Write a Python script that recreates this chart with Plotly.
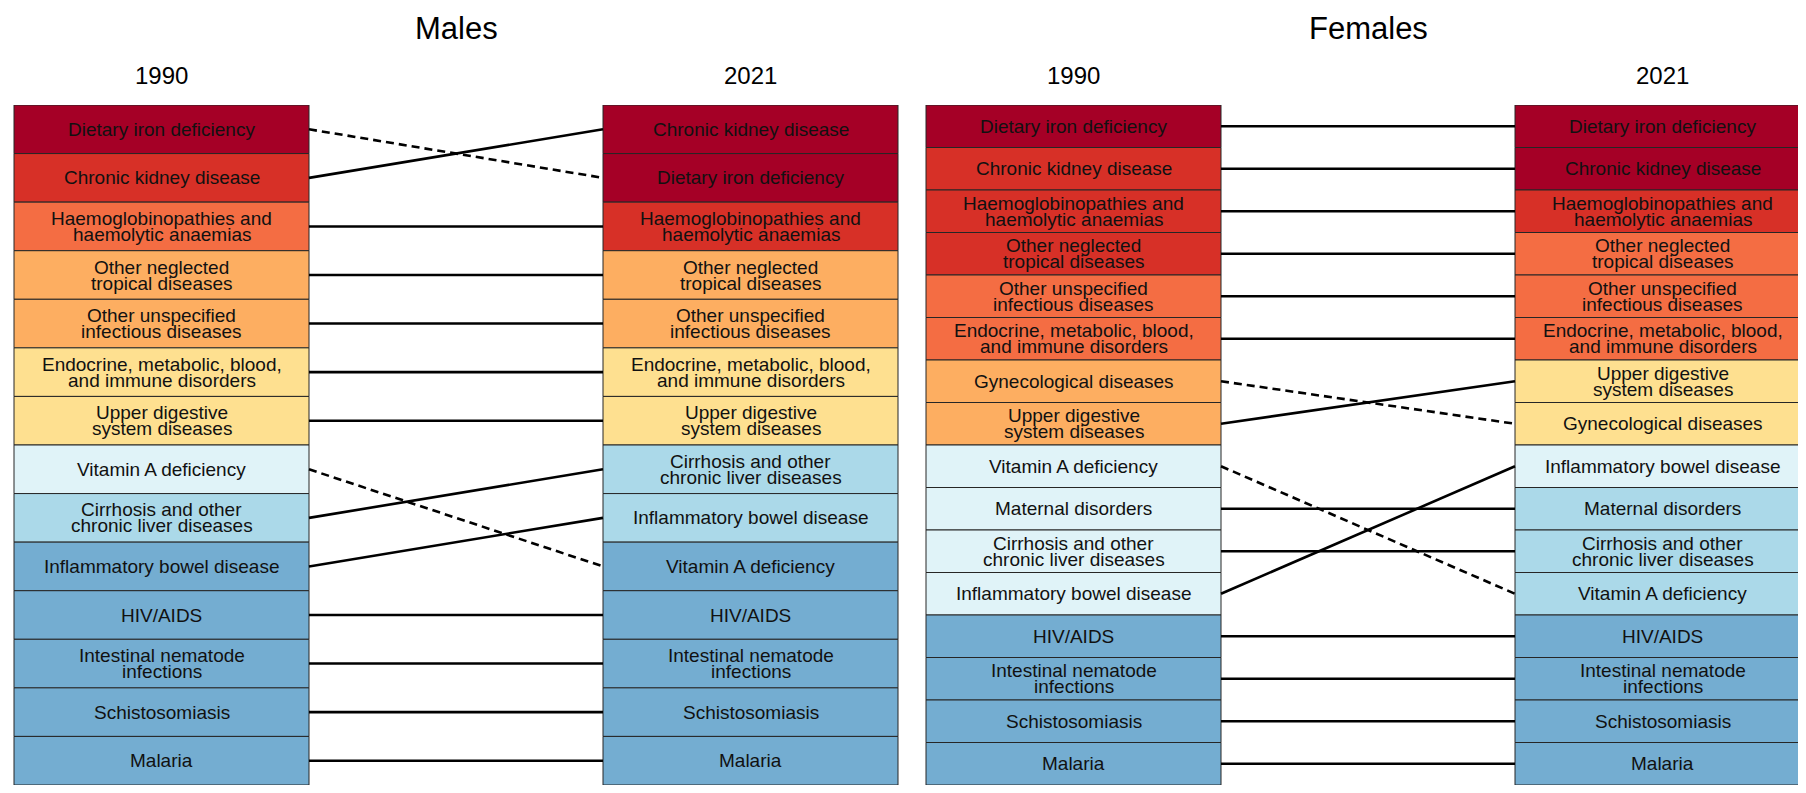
import plotly.graph_objects as go

# rank order (top = highest) and colour bin of each cause, 1990 vs 2021
males_1990 = ["Dietary iron deficiency", "Chronic kidney disease",
              "Haemoglobinopathies and\nhaemolytic anaemias", "Other neglected\ntropical diseases",
              "Other unspecified\ninfectious diseases", "Endocrine, metabolic, blood,\nand immune disorders",
              "Upper digestive\nsystem diseases", "Vitamin A deficiency",
              "Cirrhosis and other\nchronic liver diseases", "Inflammatory bowel disease",
              "HIV/AIDS", "Intestinal nematode\ninfections", "Schistosomiasis", "Malaria"]
males_1990_bin = [7, 6, 5, 4, 4, 3, 3, 2, 1, 0, 0, 0, 0, 0]

males_2021 = ["Chronic kidney disease", "Dietary iron deficiency",
              "Haemoglobinopathies and\nhaemolytic anaemias", "Other neglected\ntropical diseases",
              "Other unspecified\ninfectious diseases", "Endocrine, metabolic, blood,\nand immune disorders",
              "Upper digestive\nsystem diseases", "Cirrhosis and other\nchronic liver diseases",
              "Inflammatory bowel disease", "Vitamin A deficiency",
              "HIV/AIDS", "Intestinal nematode\ninfections", "Schistosomiasis", "Malaria"]
males_2021_bin = [7, 7, 6, 4, 4, 3, 3, 1, 1, 0, 0, 0, 0, 0]

females_1990 = ["Dietary iron deficiency", "Chronic kidney disease",
                "Haemoglobinopathies and\nhaemolytic anaemias", "Other neglected\ntropical diseases",
                "Other unspecified\ninfectious diseases", "Endocrine, metabolic, blood,\nand immune disorders",
                "Gynecological diseases", "Upper digestive\nsystem diseases", "Vitamin A deficiency",
                "Maternal disorders", "Cirrhosis and other\nchronic liver diseases",
                "Inflammatory bowel disease", "HIV/AIDS", "Intestinal nematode\ninfections",
                "Schistosomiasis", "Malaria"]
females_1990_bin = [7, 6, 6, 6, 5, 5, 4, 4, 2, 2, 2, 2, 0, 0, 0, 0]

females_2021 = ["Dietary iron deficiency", "Chronic kidney disease",
                "Haemoglobinopathies and\nhaemolytic anaemias", "Other neglected\ntropical diseases",
                "Other unspecified\ninfectious diseases", "Endocrine, metabolic, blood,\nand immune disorders",
                "Upper digestive\nsystem diseases", "Gynecological diseases",
                "Inflammatory bowel disease", "Maternal disorders",
                "Cirrhosis and other\nchronic liver diseases", "Vitamin A deficiency",
                "HIV/AIDS", "Intestinal nematode\ninfections", "Schistosomiasis", "Malaria"]
females_2021_bin = [7, 7, 6, 5, 5, 5, 3, 3, 2, 1, 1, 1, 0, 0, 0, 0]

years = ["1990", "2021"]
panels = ["Males", "Females"]

# RdYlBu, low -> high
palette = ["#74ADD1", "#ABD9E9", "#E0F3F8", "#FEE090", "#FDAE61", "#F46D43", "#D73027", "#A50026"]

# page body has an 8px margin, so the figure is drawn 8px smaller and shifted
PAD = 8
W, H = 1806 - PAD, 793 - PAD
COL_W = 295
col_left = {("Males", "1990"): 14 - PAD, ("Males", "2021"): 603 - PAD,
            ("Females", "1990"): 926 - PAD, ("Females", "2021"): 1515 - PAD}
FONT = "Liberation Sans, Arial, Helvetica, sans-serif"

data = {("Males", "1990"): (males_1990, males_1990_bin),
        ("Males", "2021"): (males_2021, males_2021_bin),
        ("Females", "1990"): (females_1990, females_1990_bin),
        ("Females", "2021"): (females_2021, females_2021_bin)}

fig = go.Figure()
annotations = []

for p, panel in enumerate(panels):
    yref = "y" if p == 0 else "y2"
    for year in years:
        names, bins = data[(panel, year)]
        left = col_left[(panel, year)]
        n = len(names)
        fig.add_trace(go.Bar(
            x=[left + COL_W / 2] * n, y=[1] * n, base=list(range(n)), width=COL_W,
            marker=dict(color=[palette[b] for b in bins], line=dict(color="#262626", width=1)),
            yaxis=yref, showlegend=False, hoverinfo="skip"))
        for i, name in enumerate(names):
            lines = name.split("\n")
            shifts = [0] if len(lines) == 1 else [8, -8]
            for txt, s in zip(lines, shifts):
                annotations.append(dict(x=left + COL_W / 2, y=i + 0.5, xref="x", yref=yref,
                                        text=txt, showarrow=False, yshift=s,
                                        font=dict(family=FONT, size=19, color="#111111")))
        annotations.append(dict(x=left + COL_W / 2, y=1, xref="x", yref="paper", yanchor="middle",
                                text=year, showarrow=False, yshift=30,
                                font=dict(family=FONT, size=24, color="black")))
    # rank change lines
    old, _ = data[(panel, "1990")]
    new, _ = data[(panel, "2021")]
    x0 = col_left[(panel, "1990")] + COL_W
    x1 = col_left[(panel, "2021")]
    for i, name in enumerate(old):
        j = new.index(name)
        fig.add_trace(go.Scatter(
            x=[x0, x1], y=[i + 0.5, j + 0.5], mode="lines", yaxis=yref,
            line=dict(color="black", width=2.6, dash="8px,5px" if j > i else "solid"),
            showlegend=False, hoverinfo="skip"))
    centre = (col_left[(panel, "1990")] + col_left[(panel, "2021")] + COL_W) / 2
    annotations.append(dict(x=centre, y=1, xref="x", yref="paper", yanchor="middle",
                            text=panel, showarrow=False, yshift=77,
                            font=dict(family=FONT, size=31, color="black")))

fig.update_layout(
    width=W, height=H,
    margin=dict(l=0, r=0, t=105 - PAD, b=8),
    paper_bgcolor="white", plot_bgcolor="white",
    barmode="overlay",
    xaxis=dict(range=[0, W], visible=False, fixedrange=True),
    yaxis=dict(range=[len(males_1990), 0], visible=False),
    yaxis2=dict(range=[len(females_1990), 0], visible=False, overlaying="y"),
    annotations=annotations,
)

fig.write_html("out.html")
